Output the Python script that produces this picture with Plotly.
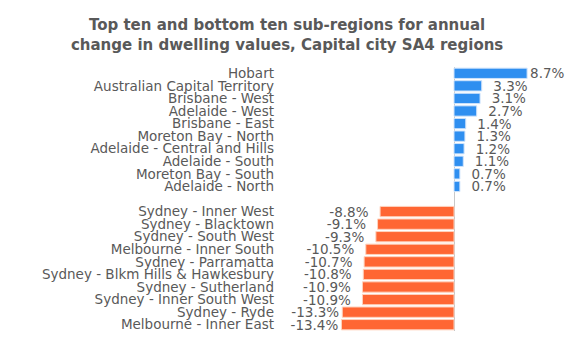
import plotly.graph_objects as go

top_regions = ["Hobart", "Australian Capital Territory", "Brisbane - West", "Adelaide - West",
               "Brisbane - East", "Moreton Bay - North", "Adelaide - Central and Hills",
               "Adelaide - South", "Moreton Bay - South", "Adelaide - North"]
top_values = [8.7, 3.3, 3.1, 2.7, 1.4, 1.3, 1.2, 1.1, 0.7, 0.7]

bottom_regions = ["Sydney - Inner West", "Sydney - Blacktown", "Sydney - South West",
                  "Melbourne - Inner South", "Sydney - Parramatta", "Sydney - Blkm Hills & Hawkesbury",
                  "Sydney - Sutherland", "Sydney - Inner South West", "Sydney - Ryde",
                  "Melbourne - Inner East"]
bottom_values = [-8.8, -9.1, -9.3, -10.5, -10.7, -10.8, -10.9, -10.9, -13.3, -13.4]

title_text = "Top ten and bottom ten sub-regions for annual<br>change in dwelling values, Capital city SA4 regions"

categories = top_regions + [" "] + bottom_regions
values = top_values + [None] + bottom_values


def label(v):
    if v is None:
        return ""
    s = f"{v:.1f}%"
    # extra spacing between bar end and label, except where space is tight
    if v > 0 and v < 8:
        return "  " + s
    if v < 0 and v > -12:
        return s + "  "
    return s


texts = [label(v) for v in values]
colors = ["#2f8ff0" if (v is not None and v > 0) else "#ff6633" for v in values]
edges = ["#cfe3fb" if (v is not None and v > 0) else "#ffd2bd" for v in values]

FONT = "DejaVu Sans"
GREY = "#595959"

fig = go.Figure(go.Bar(
    y=categories, x=values, orientation="h",
    marker=dict(color=colors, line=dict(width=1, color=edges)),
    text=texts, textposition="outside", cliponaxis=False, constraintext="none",
    textfont=dict(family=FONT, size=13.5, color=GREY),
))

fig.update_layout(
    width=580, height=352,
    margin=dict(l=278, r=35, t=67, b=21),
    paper_bgcolor="white", plot_bgcolor="white",
    bargap=0.18, showlegend=False,
    title=dict(text=title_text, x=0.495, xanchor="center", yref="container",
               y=1 - 30 / 352, yanchor="middle",
               font=dict(family=FONT, size=15, color=GREY, weight="bold")),
    font=dict(family=FONT, size=13.5, color=GREY),
)
fig.update_xaxes(range=[-20.95, 10.83], showticklabels=False, showgrid=False,
                 zeroline=True, zerolinecolor="#c8c8c8", zerolinewidth=1, showline=False)
fig.update_yaxes(categoryorder="array", categoryarray=categories, autorange="reversed",
                 tickmode="array", tickvals=categories, ticktext=categories,
                 showgrid=False, showline=False, ticks="", ticklabelstandoff=3,
                 tickfont=dict(family=FONT, size=13.5, color=GREY))

fig.write_html("out.html")
